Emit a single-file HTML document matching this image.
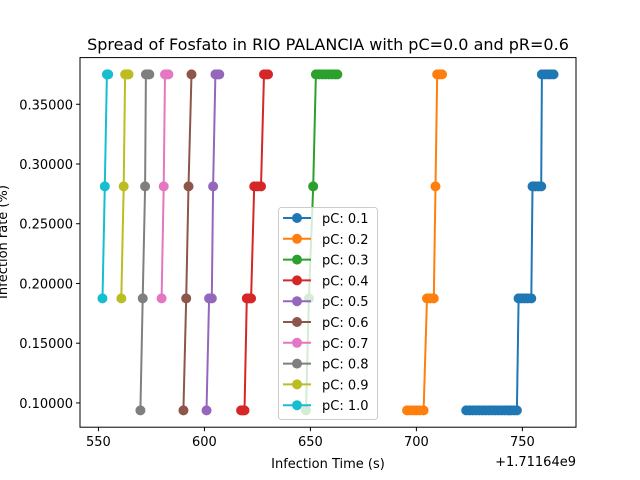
<!DOCTYPE html>
<html><head><meta charset="utf-8"><style>
html,body{margin:0;padding:0;background:#fff;}
svg{display:block;font-family:"DejaVu Sans","Liberation Sans",sans-serif;}
</style></head><body>
<svg id="chart" width="640" height="480" viewBox="0 0 640 480">
<rect width="640" height="480" fill="#fff"/>
<text x="328" y="50" text-anchor="middle" font-size="16" fill="#000">Spread of Fosfato in RIO PALANCIA with pC=0.0 and pR=0.6</text>
<g id="plot"></g>
<g id="axes"></g>
<text x="328" y="468" text-anchor="middle" font-size="13">Infection Time (s)</text>
<text x="576" y="466" text-anchor="end" font-size="13">+1.71164e9</text>
<text transform="translate(7,242) rotate(-90)" text-anchor="middle" font-size="13">Infection rate (%)</text>
<g id="legend"></g>
</svg>
<script>
const seriesNames = ["pC: 0.1","pC: 0.2","pC: 0.3","pC: 0.4","pC: 0.5","pC: 0.6","pC: 0.7","pC: 0.8","pC: 0.9","pC: 1.0"];
const colors = ["#1f77b4","#ff7f0e","#2ca02c","#d62728","#9467bd","#8c564b","#e377c2","#7f7f7f","#bcbd22","#17becf"];
const xTicks = [550,600,650,700,750];
const yTicks = [0.10,0.15,0.20,0.25,0.30,0.35];
const xs1 = [723.5,725,726.5,728,729.5,731,732.5,734,735.5,737,738.5,740,741.5,743,744.5,746,747.4,748.2,749.5,751,752.5,754.2,754.8,756,757.5,758.9,759.2,760.5,762,763.3,764.7];
const ys1 = [0.09375,0.09375,0.09375,0.09375,0.09375,0.09375,0.09375,0.09375,0.09375,0.09375,0.09375,0.09375,0.09375,0.09375,0.09375,0.09375,0.09375,0.1875,0.1875,0.1875,0.1875,0.1875,0.28125,0.28125,0.28125,0.28125,0.375,0.375,0.375,0.375,0.375];
const xs2 = [695.6,697,698.5,700,701.5,703.4,705,706.5,708.2,709,709.8,711,712.1];
const ys2 = [0.09375,0.09375,0.09375,0.09375,0.09375,0.09375,0.1875,0.1875,0.1875,0.28125,0.375,0.375,0.375];
const xs3 = [647.9,649.3,651.3,652.6,654,655.5,657,658.5,660,661.5,662.7];
const ys3 = [0.09375,0.1875,0.28125,0.375,0.375,0.375,0.375,0.375,0.375,0.375,0.375];
const xs4 = [617.3,618.1,618.9,620,621,622,623.5,625,626.7,628.1,629,630];
const ys4 = [0.09375,0.09375,0.09375,0.1875,0.1875,0.1875,0.28125,0.28125,0.28125,0.375,0.375,0.375];
const xs5 = [601,602.2,603.5,604.1,605.2,606.1,607];
const ys5 = [0.09375,0.1875,0.1875,0.28125,0.375,0.375,0.375];
const xs6 = [590.1,591.4,592.5,593.9];
const ys6 = [0.09375,0.1875,0.28125,0.375];
const xs7 = [579.8,580.8,581.4,582.2,583];
const ys7 = [0.1875,0.28125,0.375,0.375,0.375];
const xs8 = [569.8,570.9,572,572.4,573.2,574];
const ys8 = [0.09375,0.1875,0.28125,0.375,0.375,0.375];
const xs9 = [560.8,561.9,562.6,563.4,564.2];
const ys9 = [0.1875,0.28125,0.375,0.375,0.375];
const xs10 = [551.9,553,554,554.6];
const ys10 = [0.1875,0.28125,0.375,0.375];
const allX = [xs1,xs2,xs3,xs4,xs5,xs6,xs7,xs8,xs9,xs10];
const allY = [ys1,ys2,ys3,ys4,ys5,ys6,ys7,ys8,ys9,ys10];

const NS="http://www.w3.org/2000/svg";
const L=80,R=576,T=57.6,B=427.2;
const XMIN=541.3,XMAX=775.3,YMIN=0.0796875,YMAX=0.3890625;
function sx(v){return L+(v-XMIN)/(XMAX-XMIN)*(R-L);}
function sy(v){return B-(v-YMIN)/(YMAX-YMIN)*(B-T);}
function mk(tag,attrs,parent){const e=document.createElementNS(NS,tag);for(const k in attrs)e.setAttribute(k,attrs[k]);parent.appendChild(e);return e;}

const plot=document.getElementById('plot');
for(let s=0;s<allX.length;s++){
  const g=mk('g',{},plot);
  
  
  const pts=allX[s].map((x,i)=>sx(x).toFixed(1)+','+sy(allY[s][i]).toFixed(1)).join(' ');
  const pl=mk('polyline',{points:pts,fill:'none',stroke:colors[s],'stroke-width':2},g);
  
  
  for(let i=0;i<allX[s].length;i++){
    const c=mk('circle',{cx:sx(allX[s][i]),cy:sy(allY[s][i]),r:5,fill:colors[s]},g);
    
    
  }
}
const axes=document.getElementById('axes');
const frame=mk('rect',{x:L,y:T,width:R-L,height:B-T,fill:'none',stroke:'#000','stroke-width':1},axes);


xTicks.forEach(v=>{
  const x=sx(v);
  mk('line',{x1:x,x2:x,y1:B,y2:B+4,stroke:'#000'},axes);
  const t=mk('text',{x:x,y:B+19,'text-anchor':'middle','font-size':13},axes);
  t.textContent=v;
  
  
});
yTicks.forEach(v=>{
  const y=sy(v);
  mk('line',{x1:L-4,x2:L,y1:y,y2:y,stroke:'#000'},axes);
  const t=mk('text',{x:L-7,y:y+5,'text-anchor':'end','font-size':13},axes);
  t.textContent=v.toFixed(5);
  
  
});
const leg=document.getElementById('legend');


mk('rect',{x:278.5,y:207.5,width:99,height:212,rx:3,fill:'#fff','fill-opacity':0.8,stroke:'#ccc'},leg);
seriesNames.forEach((n,i)=>{
  const y=218+i*20.8;
  const g=mk('g',{},leg);
  
  
  mk('line',{x1:283,x2:311,y1:y,y2:y,stroke:colors[i],'stroke-width':2},g);
  mk('circle',{cx:297,cy:y,r:5,fill:colors[i]},g);
  const t=mk('text',{x:322,y:y+5,'font-size':13},g);
  t.textContent=n;
});
</script>
</body></html>
